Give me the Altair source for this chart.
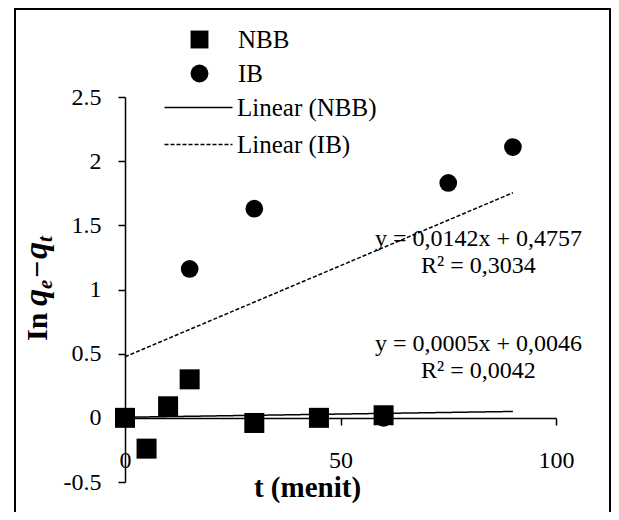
import altair as alt
import pandas as pd

# ---- data ----
t_nbb = [0, 5, 10, 15, 30, 45, 60]
lnq_nbb = [0.0, -0.24, 0.09, 0.30, -0.04, 0.0, 0.02]
t_ib = [0, 15, 30, 60, 75, 90]
lnq_ib = [0.0, 1.16, 1.63, 0.0, 1.83, 2.11]

series_names = ["NBB", "IB"]
trend_names = ["Linear (NBB)", "Linear (IB)"]
trend_slope = [0.0005, 0.0142]
trend_intercept = [0.0046, 0.4757]
trend_extent = [0, 90]

eq_labels = ["y = 0,0142x + 0,4757", "R² = 0,3034", "y = 0,0005x + 0,0046", "R² = 0,0042"]
eq_x = [82, 82, 82, 82]
eq_y = [1.39, 1.18, 0.575, 0.365]

x_ticks = [0, 50, 100]
y_ticks = [-0.5, 0, 0.5, 1, 1.5, 2, 2.5]

x_title = "t (menit)"
# y title pieces: "In q_e − q_t"
y_title_parts = ["In", "q", "e", "−", "q", "t"]

FONT = "Liberation Serif"

df_nbb = pd.DataFrame({"t": t_nbb, "v": lnq_nbb, "series": "NBB"})
df_ib = pd.DataFrame({"t": t_ib, "v": lnq_ib, "series": "IB"})

rows = []
for name, m, b in zip(trend_names, trend_slope, trend_intercept):
    for xx in trend_extent:
        rows.append({"t": xx, "v": m * xx + b, "trend": name})
df_trend = pd.DataFrame(rows)

df_eq = pd.DataFrame({"t": eq_x, "v": eq_y, "label": eq_labels})

x_scale = alt.Scale(domain=[0, 100], nice=False, zero=False)
y_scale = alt.Scale(domain=[-0.5, 2.5], nice=False, zero=False)

x_axis = alt.Axis(
    values=x_ticks, offset=-64, tickSize=7, labelPadding=23, labelFlush=False,
    labelFont=FONT, labelFontSize=24, labelColor="black",
    domainColor="black", tickColor="black", domainWidth=1.5, tickWidth=1.5,
    grid=False, titleFont=FONT, titleFontSize=29, titleFontWeight="bold",
    titleColor="black", titleX=182, titleY=69, titleBaseline="middle",
    titleAlign="center",
)
y_axis = alt.Axis(
    values=y_ticks, labelExpr="datum.value + ''", tickSize=7, labelPadding=17,
    labelFont=FONT, labelFontSize=24, labelColor="black",
    domainColor="black", tickColor="black", domainWidth=1.5, tickWidth=1.5,
    grid=False,
)

shape_scale = alt.Scale(domain=series_names, range=["square", "circle"])
leg_pts = alt.Legend(
    title=None, orient="none", legendX=62, legendY=-70, padding=0,
    symbolSize=320, symbolFillColor="black", symbolStrokeWidth=0,
    labelFont=FONT, labelFontSize=25, labelColor="black", labelOffset=26,
    rowPadding=8, labelLimit=300,
)
leg_lines = alt.Legend(
    title=None, orient="none", legendX=61, legendY=-2, padding=0,
    symbolType="M-3.4,0H3.4", symbolSize=400, symbolStrokeColor="black",
    symbolStrokeWidth=1.5, labelFont=FONT, labelFontSize=25,
    labelColor="black", labelOffset=26, rowPadding=11, labelLimit=300,
)

circles = alt.Chart(df_ib).mark_point(filled=True, opacity=1, color="black", size=314).encode(
    x=alt.X("t:Q", scale=x_scale, axis=x_axis, title=x_title),
    y=alt.Y("v:Q", scale=y_scale, axis=y_axis, title=None),
    shape=alt.Shape("series:N", scale=shape_scale, legend=leg_pts),
)
squares = alt.Chart(df_nbb).mark_point(filled=True, opacity=1, color="black", size=400).encode(
    x=alt.X("t:Q", scale=x_scale),
    y=alt.Y("v:Q", scale=y_scale),
    shape=alt.Shape("series:N", scale=shape_scale, legend=leg_pts),
)
lines = alt.Chart(df_trend).mark_line(color="black", strokeWidth=1.5).encode(
    x=alt.X("t:Q", scale=x_scale),
    y=alt.Y("v:Q", scale=y_scale),
    strokeDash=alt.StrokeDash(
        "trend:N",
        scale=alt.Scale(domain=trend_names, range=[[1, 0], [4, 2]]),
        legend=leg_lines,
    ),
)
texts = alt.Chart(df_eq).mark_text(font=FONT, fontSize=24, color="black").encode(
    x=alt.X("t:Q", scale=x_scale),
    y=alt.Y("v:Q", scale=y_scale),
    text="label:N",
)

# rotated y-axis title built from pieces (reads bottom to top)
one = pd.DataFrame({"b": [0]})


def title_piece(txt, px, py, size, italic):
    return alt.Chart(one).mark_text(
        text=txt, font=FONT, fontSize=size, fontWeight="bold",
        fontStyle="italic" if italic else "normal", angle=270,
        align="left", baseline="alphabetic", color="black",
    ).encode(x=alt.value(px), y=alt.value(py))


ytitle = [
    title_piece(y_title_parts[0], -78, 244, 30, False),
    title_piece(y_title_parts[1], -78, 209, 34, True),
    title_piece(y_title_parts[2], -73, 192, 21, True),
    title_piece(y_title_parts[3], -78, 181, 30, False),
    title_piece(y_title_parts[4], -78, 162, 34, True),
    title_piece(y_title_parts[5], -73, 145, 21, True),
]

border = alt.Chart(one).mark_rect(
    filled=False, stroke="black", strokeWidth=2, fillOpacity=0
).encode(
    x=alt.value(-110), x2=alt.value(485), y=alt.value(-88), y2=alt.value(430)
)

chart = alt.layer(texts, circles, squares, lines, *ytitle, border).properties(
    width=431, height=385,
    autosize=alt.AutoSizeParams(type="none"),
    padding={"left": 117, "top": 89, "right": 55, "bottom": 30},
).configure_view(strokeWidth=0).configure_axis(
    labelFont=FONT, titleFont=FONT
).resolve_scale(shape="shared")

chart.save("out.html", embed_options={"renderer": "svg", "actions": False})
